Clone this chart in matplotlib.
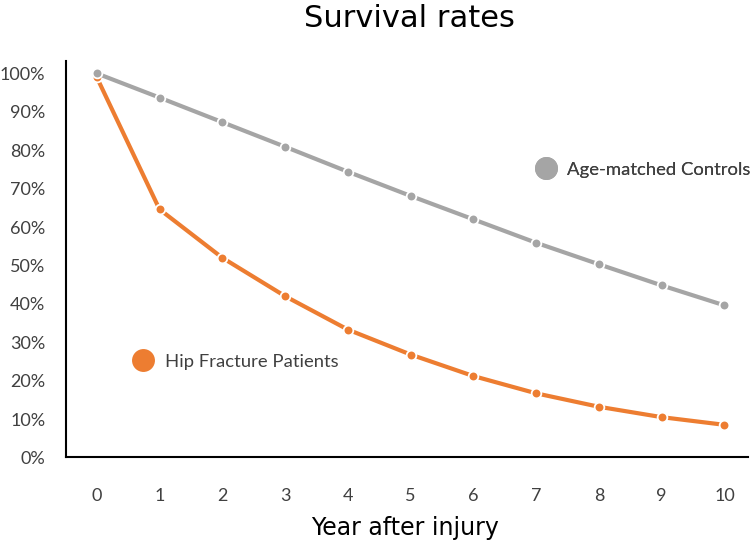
"""
Survival rates: hip fracture patients vs age-matched controls
"""
import matplotlib
matplotlib.use('Agg')
import matplotlib.pyplot as plt
from matplotlib.lines import Line2D
from matplotlib.ticker import PercentFormatter

matplotlib.rcParams['font.family'] = ['Lato', 'DejaVu Sans']

years = [0, 1, 2, 3, 4, 5, 6, 7, 8, 9, 10]
controls = [1.000, 0.937, 0.873, 0.809, 0.744, 0.681, 0.620, 0.559, 0.503, 0.448, 0.396]
hip_fracture = [0.990, 0.646, 0.520, 0.420, 0.333, 0.268, 0.212, 0.167, 0.132, 0.105, 0.085]
y_ticks = [0, 0.1, 0.2, 0.3, 0.4, 0.5, 0.6, 0.7, 0.8, 0.9, 1.0]

GREY = '#a5a5a5'
ORANGE = '#ed7d31'
TEXT = '#404040'

fig = plt.figure(figsize=(7.56, 5.45), dpi=100)
ax = fig.add_axes([0.0873, 0.1606, 0.9017, 0.728])

for values, color in [(hip_fracture, ORANGE), (controls, GREY)]:
    ax.plot(years, values, color=color, linewidth=3, marker='o', markersize=7,
            markerfacecolor=color, markeredgecolor='white', markeredgewidth=1.3,
            solid_capstyle='butt', zorder=3)

ax.set_xlim(-0.49, 10.37)
ax.set_ylim(0, 1.033)
ax.set_xticks(years)
ax.set_yticks(y_ticks)
ax.yaxis.set_major_formatter(PercentFormatter(1.0, decimals=0))
ax.tick_params(axis='both', length=0, labelsize=13, labelcolor=TEXT)
ax.tick_params(axis='x', pad=22)
ax.tick_params(axis='y', pad=15)

for side in ['top', 'right']:
    ax.spines[side].set_visible(False)
for side in ['left', 'bottom']:
    ax.spines[side].set_linewidth(1.5)
    ax.spines[side].set_color('black')

# Inline series labels (legend-style)
for label, color, anchor in [('Hip Fracture Patients', ORANGE, (0.0971, 0.241)),
                             ('Age-matched Controls', GREY, (0.6875, 0.725))]:
    handle = Line2D([], [], linestyle='', marker='o', markersize=16.5,
                    color=color, markeredgewidth=0)
    leg = ax.legend(handles=[handle], labels=[label], loc='center left',
                    bbox_to_anchor=anchor, frameon=False, fontsize=13.3,
                    borderpad=0, borderaxespad=0, handlelength=1.2,
                    handletextpad=0.55, labelcolor=TEXT)
    ax.add_artist(leg)

fig.text(0.542, 0.950, 'Survival rates', ha='center', va='baseline',
         fontsize=22, family='DejaVu Sans', color='black')
fig.text(0.536, 0.0183, 'Year after injury', ha='center', va='baseline',
         fontsize=17, family='DejaVu Sans', color='black')

fig.savefig('out.png', dpi=100)
